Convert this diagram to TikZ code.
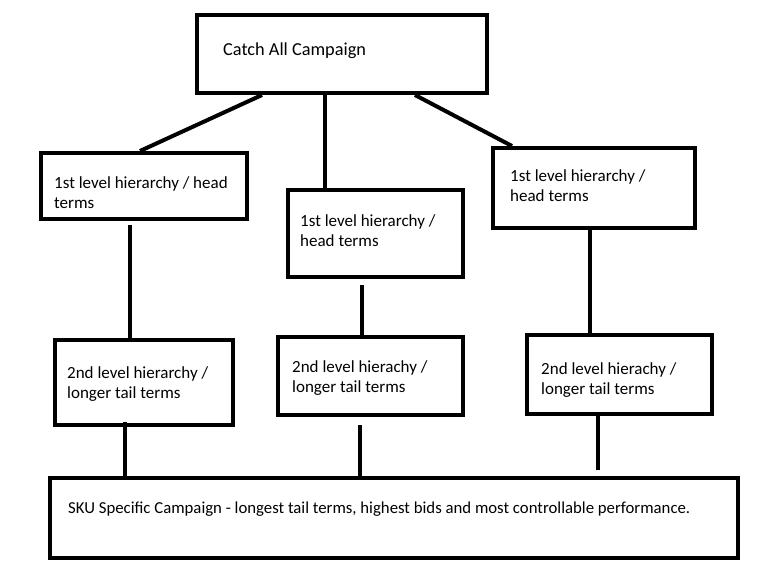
\documentclass[tikz,border=0pt]{standalone}
\usepackage{fontspec}
\setmainfont{Carlito}
\begin{document}
\begin{tikzpicture}[x=1pt,y=-1pt,
  box/.style={draw=black,line width=4pt,fill=none,inner sep=0pt},
  lbl/.style={anchor=west,inner sep=0pt,align=left,font=\fontsize{17}{20}\selectfont},
  conn/.style={draw=black,line width=4pt}]
\useasboundingbox[fill=white] (0,0) rectangle (768,570);
% boxes
\node[box,minimum width=290pt,minimum height=78pt] (top) at (342,54) {};
\node[box,minimum width=206pt,minimum height=66pt] (la) at (144,186) {};
\node[box,minimum width=175pt,minimum height=87pt] (lb) at (375.5,233.5) {};
\node[box,minimum width=202pt,minimum height=80pt] (lc) at (594,188) {};
\node[box,minimum width=178pt,minimum height=85pt] (ma) at (144,382.5) {};
\node[box,minimum width=185pt,minimum height=78pt] (mb) at (370.5,376) {};
\node[box,minimum width=185pt,minimum height=79pt] (mc) at (619.5,374.5) {};
\node[box,minimum width=688pt,minimum height=80pt] (bot) at (394,518) {};
% labels
\node[lbl,font=\fontsize{18.3}{20}\selectfont] (ttop) at (223,51) {Catch All Campaign};
\node[lbl] (tla) at (54,192.5) {1st level hierarchy / head\\terms};
\node[lbl] (tlb) at (300,230.5) {1st level hierarchy /\\head terms};
\node[lbl] (tlc) at (510,186) {1st level hierarchy /\\head terms};
\node[lbl] (tma) at (67,384) {2nd level hierarchy /\\longer tail terms};
\node[lbl] (tmb) at (292,378) {2nd level hierachy /\\longer tail terms};
\node[lbl] (tmc) at (541,380) {2nd level hierachy /\\longer tail terms};
\node[lbl,font=\fontsize{16.75}{20}\selectfont] (tbot) at (68,509) {SKU Specific Campaign - longest tail terms, highest bids and most controllable performance.};
% connector end points
\coordinate (c1a) at (top.south -| 262,0);
\coordinate (c1b) at (la.north -| 140,0);
\coordinate (c2a) at (top.south -| 325,0);
\coordinate (c2b) at (lb.north -| 325,0);
\coordinate (c3a) at (top.south -| 415,0);
\coordinate (c3b) at (lc.north -| 512,0);
\coordinate (c4a) at (130,225);
\coordinate (c4b) at (ma.north -| 130,0);
\coordinate (c5a) at (362,285);
\coordinate (c5b) at (362,335);
\coordinate (c6a) at (lc.south -| 590,0);
\coordinate (c6b) at (mc.north -| 590,0);
\coordinate (c7a) at (125,422);
\coordinate (c7b) at (bot.north -| 125,0);
\coordinate (c8a) at (360,425);
\coordinate (c8b) at (bot.north -| 360,0);
\coordinate (c9a) at (mc.south -| 598,0);
\coordinate (c9b) at (598,470);
\draw[conn] (c1a) -- (c1b);
\draw[conn] (c2a) -- (c2b);
\draw[conn] (c3a) -- (c3b);
\draw[conn] (c4a) -- (c4b);
\draw[conn] (c5a) -- (c5b);
\draw[conn] (c6a) -- (c6b);
\draw[conn] (c7a) -- (c7b);
\draw[conn] (c8a) -- (c8b);
\draw[conn] (c9a) -- (c9b);
\end{tikzpicture}
\end{document}
